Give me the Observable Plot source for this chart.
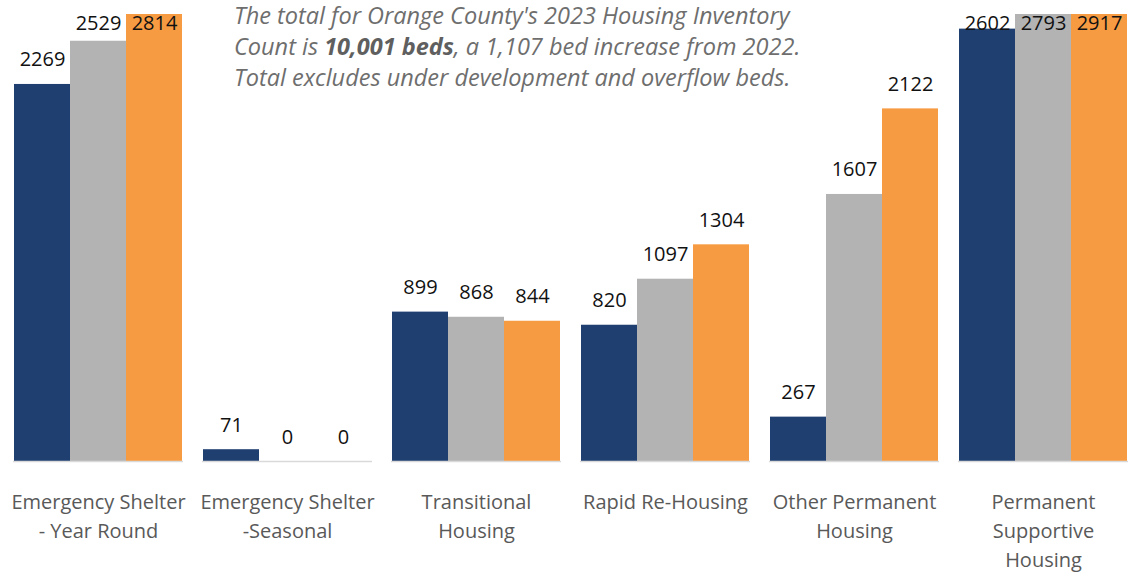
<!DOCTYPE html>
<html>
<head>
<meta charset="utf-8">
<script src="https://cdn.jsdelivr.net/npm/d3@7"></script>
<script src="https://cdn.jsdelivr.net/npm/@observablehq/plot@0.6"></script>
<style>
  html, body { margin: 0; padding: 0; background: #fff; overflow: hidden; }
  #wrap { position: relative; width: 1128px; height: 575px; overflow: hidden; }
  #chart svg { max-width: none !important; display: block; }
  #note {
    position: absolute; left: 234px; top: 0px; white-space: nowrap;
    font-family: "Open Sans", "Noto Sans", sans-serif; font-style: italic;
    font-size: 23.5px; line-height: 31px; color: #6e6e6e; z-index: 2;
  }
  #note b { color: #5f5f5f; }
</style>
</head>
<body>
<div id="wrap">
  <div id="chart"></div>
  <div id="note">The total for Orange County's 2023 Housing Inventory<br>Count is <b>10,001 beds</b>, a 1,107 bed increase from 2022.<br>Total excludes under development and overflow beds.</div>
</div>
<script>
const categories = ["ES-YR", "ES-S", "TH", "RRH", "OPH", "PSH"];
const categoryLabels = [
  "Emergency Shelter\n- Year Round",
  "Emergency Shelter\n-Seasonal",
  "Transitional\nHousing",
  "Rapid Re-Housing",
  "Other Permanent\nHousing",
  "Permanent\nSupportive\nHousing"
];
const years = ["2021", "2022", "2023"];
const values2021 = [2269, 71, 899, 820, 267, 2602];
const values2022 = [2529, 0, 868, 1097, 1607, 2793];
const values2023 = [2814, 0, 844, 1304, 2122, 2917];
const colors = ["#1f3f70", "#b3b3b3", "#f79b42"];

const series = [values2021, values2022, values2023];
const data = [];
categories.forEach((c, i) => {
  years.forEach((y, j) => data.push({category: c, year: y, value: series[j][i]}));
});
const labelOf = Object.fromEntries(categories.map((c, i) => [c, categoryLabels[i]]));
const yMax = 2690;      // visible top of the plotting area
const labelCap = 2486;  // labels of bars that reach the top stay inside

const chart = Plot.plot({
  width: 1141,
  height: 575,
  marginLeft: 0,
  marginRight: 0,
  marginTop: 14,
  marginBottom: 114,
  style: {fontFamily: "'Open Sans', 'Noto Sans', sans-serif", background: "#fff", maxWidth: "none"},
  fx: {domain: categories, paddingInner: 0.1, paddingOuter: 0.063, axis: null},
  x: {domain: years, padding: 0, axis: null},
  y: {domain: [0, yMax], axis: null, clamp: true},
  color: {domain: years, range: colors},
  marks: [
    Plot.barY(data, {fx: "category", x: "year", y: "value", fill: "year"}),
    Plot.ruleY([0], {stroke: "#d9d9d9", strokeWidth: 1.5}),
    Plot.text(data, {
      fx: "category", x: "year",
      y: d => Math.min(d.value, labelCap),
      text: d => String(d.value),
      lineAnchor: "bottom", dy: -18,
      fontSize: 20, fill: "#111"
    }),
    Plot.axisFx({
      anchor: "bottom", tickSize: 0, tickPadding: 27,
      tickFormat: d => labelOf[d], label: null,
      fontSize: 20, lineHeight: 1.45, color: "#595959"
    })
  ]
});
document.getElementById("chart").appendChild(chart);
</script>
</body>
</html>
